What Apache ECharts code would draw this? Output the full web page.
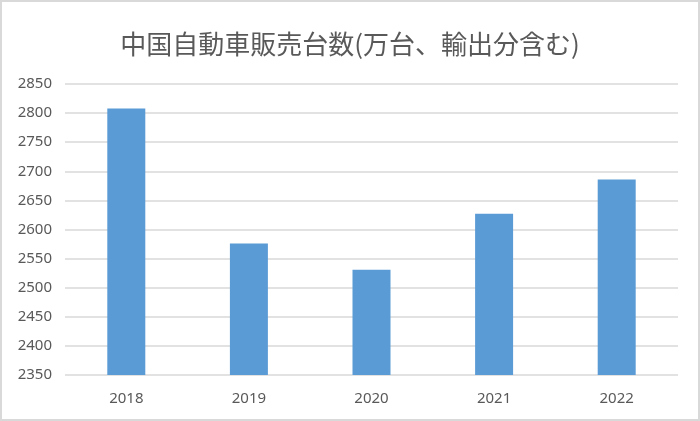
<!DOCTYPE html>
<html>
<head>
	<meta charset="utf-8">
	<title>中国自動車販売台数</title>
	<script src="https://cdn.jsdelivr.net/npm/echarts@6/dist/echarts.min.js"></script>
	<style>
		html, body { margin: 0; padding: 0; background: #fff; }
		#main {
			width: 700px;
			height: 421px;
			box-sizing: border-box;
			border: 2px solid #d9d9d9;
		}
	</style>
</head>
<body>
	<div id="main"></div>
	<script type="text/javascript">
		// データ
		var years = ['2018', '2019', '2020', '2021', '2022'];
		var sales = [2808, 2576, 2531, 2627, 2686];
		var yMin = 2350, yMax = 2850, yStep = 50;

		var myChart = echarts.init(document.getElementById('main'));

		myChart.setOption({
			animation: false,
			title: {
				text: '中国自動車販売台数(万台、輸出分含む)',
				left: 'center',
				top: 24,
				textStyle: {
					fontFamily: 'Noto Sans CJK JP',
					fontSize: 26,
					fontWeight: 'normal',
					color: '#595959'
				}
			},
			grid: { left: 63, right: 20, top: 82, bottom: 44 },
			xAxis: {
				type: 'category',
				data: years,
				axisLine: { show: false },
				axisTick: { show: false },
				axisLabel: {
					margin: 16,
					fontFamily: 'Noto Sans',
					fontSize: 15,
					color: '#595959'
				}
			},
			yAxis: {
				type: 'value',
				min: yMin,
				max: yMax,
				interval: yStep,
				axisLine: { show: false },
				axisTick: { show: false },
				axisLabel: {
					margin: 13,
					fontFamily: 'Noto Sans',
					fontSize: 15,
					color: '#595959',
					formatter: function (v) { return String(v); }
				},
				splitLine: { lineStyle: { color: '#d9d9d9', width: 1.5 } }
			},
			series: [{
				type: 'bar',
				data: sales,
				barWidth: 38,
				itemStyle: { color: '#5b9bd5' }
			}]
		});
	</script>
</body>
</html>
